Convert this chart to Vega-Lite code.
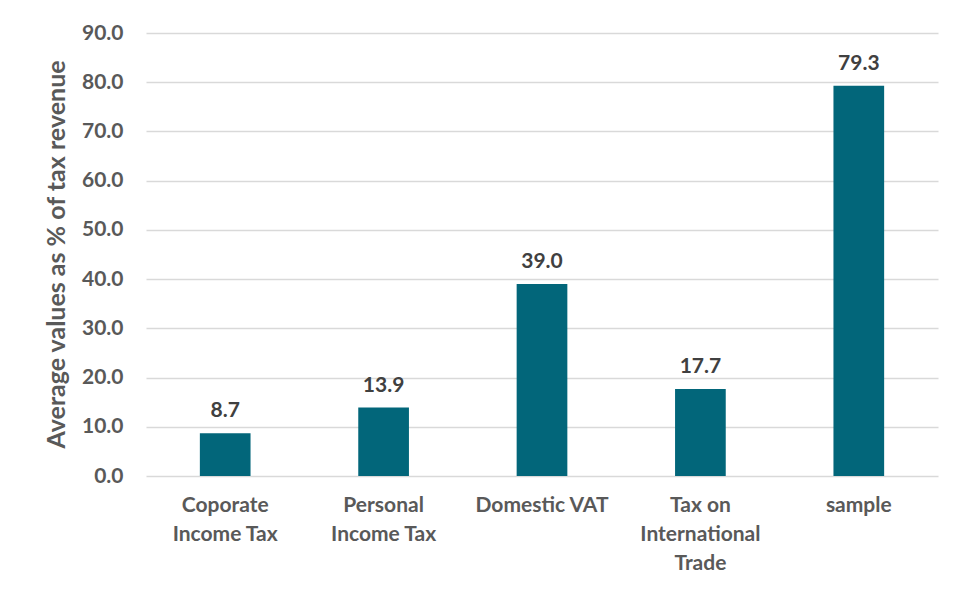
{
  "$schema": "https://vega.github.io/schema/vega-lite/v6.json",
  "width": 792,
  "height": 443,
  "autosize": {"type": "none"},
  "padding": {"left": 146, "top": 33, "right": 20, "bottom": 119},
  "background": "white",
  "config": {"view": {"stroke": null}, "font": "Lato"},
  "data": {
    "values": [
      {"category": "Coporate|Income Tax", "value": 8.7},
      {"category": "Personal|Income Tax", "value": 13.9},
      {"category": "Domestic VAT", "value": 39.0},
      {"category": "Tax on|International|Trade", "value": 17.7},
      {"category": "sample", "value": 79.3}
    ]
  },
  "encoding": {
    "x": {
      "field": "category",
      "type": "nominal",
      "sort": null,
      "scale": {"paddingInner": 0.68, "paddingOuter": 0.34},
      "axis": {
        "title": null,
        "labelAngle": 0,
        "labelExpr": "split(datum.label, '|')",
        "labelFont": "Lato",
        "labelFontWeight": "bold",
        "labelFontSize": 21,
        "labelColor": "#595959",
        "labelLineHeight": 29,
        "labelPadding": 18,
        "ticks": false,
        "domain": false,
        "labelBaseline": "top"
      }
    },
    "y": {
      "field": "value",
      "type": "quantitative",
      "scale": {"domain": [0, 90], "nice": false},
      "axis": {
        "title": "Average values as % of tax revenue",
        "titleFont": "Lato",
        "titleFontWeight": "bold",
        "titleFontSize": 25,
        "titleColor": "#595959",
        "titlePadding": 12,
        "titleY": 221,
        "values": [0, 10, 20, 30, 40, 50, 60, 70, 80, 90],
        "format": ".1f",
        "labelFont": "Lato",
        "labelFontWeight": "bold",
        "labelFontSize": 21,
        "labelColor": "#595959",
        "labelPadding": 23,
        "ticks": false,
        "domain": false,
        "gridColor": "#d9d9d9",
        "gridWidth": 1.5
      }
    }
  },
  "layer": [
    {"mark": {"type": "bar", "color": "#02667A"}},
    {
      "mark": {"type": "text", "baseline": "bottom", "dy": -12, "font": "Lato", "fontWeight": "bold", "fontSize": 21, "color": "#404040"},
      "encoding": {"text": {"field": "value", "type": "quantitative", "format": ".1f"}}
    }
  ]
}
